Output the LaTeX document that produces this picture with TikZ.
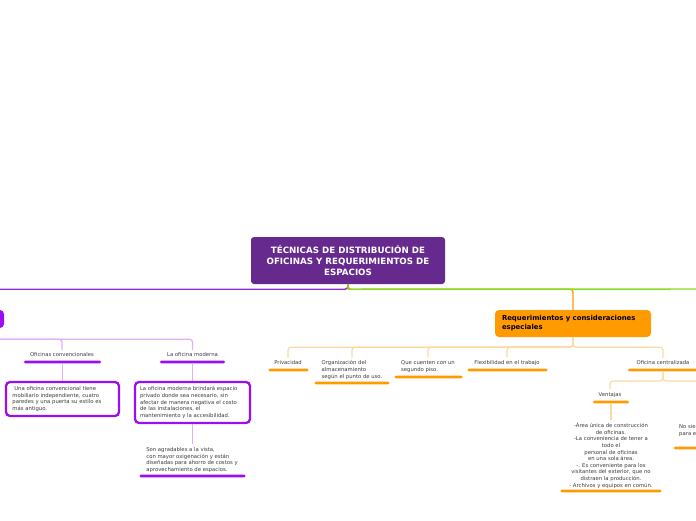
\documentclass[tikz,border=0pt]{standalone}
\usepackage{fontspec}
\setmainfont{DejaVu Sans}
\definecolor{rootpurple}{HTML}{662A8F}
\definecolor{violetC}{HTML}{9B0EF0}
\definecolor{lightviolet}{HTML}{DDB0F6}
\definecolor{mainviolet}{HTML}{8E2BDF}
\definecolor{greenC}{HTML}{86DC23}
\definecolor{orangeC}{HTML}{FF9A00}
\definecolor{lightorange}{HTML}{FDD9A2}
\definecolor{textgray}{HTML}{3A3A3A}
\tikzset{
  txt/.style={font=\fontsize{5.3}{6.6}\selectfont, text=textgray, inner sep=0pt},
  ulv/.style={fill=violetC, rounded corners=1.3pt, inner sep=0pt, minimum height=2.7pt},
  ulo/.style={fill=orangeC, rounded corners=1.3pt, inner sep=0pt, minimum height=2.7pt},
  lvconn/.style={draw=lightviolet, line width=1.2pt, rounded corners=3pt},
  loconn/.style={draw=lightorange, line width=1.2pt, rounded corners=3pt},
  vbox/.style={draw=violetC, line width=2.3pt, rounded corners=4pt, fill=white,
    font=\fontsize{5.3}{6.6}\selectfont, text=textgray, align=left, inner ysep=0pt},
  rootbox/.style={fill=rootpurple, rounded corners=3pt, text=white, align=center,
    font=\bfseries\fontsize{8.7}{11}\selectfont, minimum width=194pt, minimum height=47pt, inner sep=0pt},
  reqbox/.style={fill=orangeC, rounded corners=4pt, text=black, align=left,
    font=\bfseries\fontsize{6.9}{9}\selectfont, minimum width=156pt, minimum height=27pt,
    text width=142pt, inner xsep=7pt, inner ysep=0pt},
}
\begin{document}
\begin{tikzpicture}[x=1pt,y=-1pt]
\useasboundingbox (0,0) rectangle (696,520);

% main nodes
\node[rootbox] (root) at (348,260.5) {TÉCNICAS DE DISTRIBUCIÓN DE\\OFICINAS Y REQUERIMIENTOS DE\\ESPACIOS};
\node[fill=violetC, rounded corners=4pt, minimum width=88pt, minimum height=18pt, inner sep=0pt] (leftnode) at (-40,319) {};
\coordinate (rightoff) at (760,289);
\node[reqbox] (req) at (573,323.5) {Requerimientos y consideraciones\\especiales};

% left subtree
\node[txt] (ocT) at (62,355) {Oficinas convencionales};
\node[ulv, minimum width=77pt] (ocU) at (62.5,362) {};
\node[txt] (lmT) at (192.5,355) {La oficina moderna};
\node[ulv, minimum width=65pt] (lmU) at (192.5,362) {};
\node[vbox, minimum width=113pt, minimum height=34pt, text width=100pt, inner xsep=6.5pt] (box1) at (62.5,399)
  {\ Una oficina convencional tiene\\mobiliario independiente, cuatro\\paredes y una puerta su estilo es\\más antiguo.};
\node[vbox, minimum width=115pt, minimum height=41pt, text width=105pt, inner xsep=5pt] (box2) at (192.5,402.5)
  {La oficina moderna brindará espacio\\privado donde sea necesario, sin\\afectar de manera negativa el costo\\de las instalaciones, el\\mantenimiento y la accesibilidad.};
\node[txt, align=left] (sonT) at (192,460) {Son agradables a la vista,\\con mayor oxigenación y están\\diseñadas para ahorro de costos y\\aprovechamiento de espacios.};
\node[ulv, minimum width=106pt] (sonU) at (192.5,476) {};

% right subtree
\node[txt] (privT) at (288,363) {Privacidad};
\node[ulo, minimum width=40pt] (privU) at (288.5,370) {};
\node[txt, align=left] (orgT) at (352,370) {Organización del\\almacenamiento\\según el punto de uso.};
\node[ulo, minimum width=75pt] (orgU) at (352,383) {};
\node[txt, align=left] (queT) at (428,366.5) {Que cuenten con un\\segundo piso.};
\node[ulo, minimum width=68pt] (queU) at (428.5,377) {};
\node[txt] (flexT) at (507,363) {Flexibilidad en el trabajo};
\node[ulo, minimum width=80pt] (flexU) at (507.5,370) {};
\node[txt] (ocenT) at (663,363) {Oficina centralizada};
\node[ulo, minimum width=70pt] (ocenU) at (663,370) {};
\node[txt] (venT) at (610,395) {Ventajas};
\node[ulo, minimum width=36pt] (venU) at (611,402) {};
\node[txt, align=center] (venL) at (611,455.5) {-Área única de construcción\\de oficinas.\\-La conveniencia de tener a\\todo el\\personal de oficinas\\en una sola área.\\-. Es conveniente para los\\visitantes del exterior, que no\\distraen la producción.\\- Archivos y equipos en común.};
\node[ulo, minimum width=101pt] (venLU) at (611,491) {};
\node[txt, align=left, anchor=north west] (noT) at (679,424.5) {No siempre es\\para el personal};
\node[ulo, minimum width=90pt] (noU) at (719,448) {};

% main connectors
\draw[draw=mainviolet, line width=1.4pt, rounded corners=3pt] (root.south) -- ++(0,5) -| (leftnode.north);
\draw[draw=orangeC, line width=1.4pt, rounded corners=3pt] (root.south) -- ++(0,5) -| (req.north);
\draw[draw=greenC, line width=1.4pt] (root.south) -- ++(0,5) -- (rightoff);

% left connectors
\draw[lvconn, shorten >=3pt] (leftnode.south) -- ++(0,11) -| (ocT.north);
\draw[lvconn, shorten >=3pt] (leftnode.south) -- ++(0,11) -| (lmT.north);
\draw[lvconn] (ocU) -- (box1.north);
\draw[lvconn] (lmU) -- (box2.north);
\draw[lvconn, shorten >=3pt] (box2.south) -- (sonT.north -| box2.south);

% right connectors
\foreach \c in {privT,orgT,queT,flexT,ocenT}{
  \draw[loconn, shorten >=3pt] (req.south) -- ++(0,10) -| (\c.north);
}
\draw[loconn, shorten >=3pt] (ocenU) -- ++(0,11) -| (venT.north);
\draw[loconn, shorten >=3pt] (ocenU) -- ++(0,11) -| (noT.north);
\draw[loconn, shorten >=3pt] (venU) -- (venL.north -| venU);
\end{tikzpicture}
\end{document}
